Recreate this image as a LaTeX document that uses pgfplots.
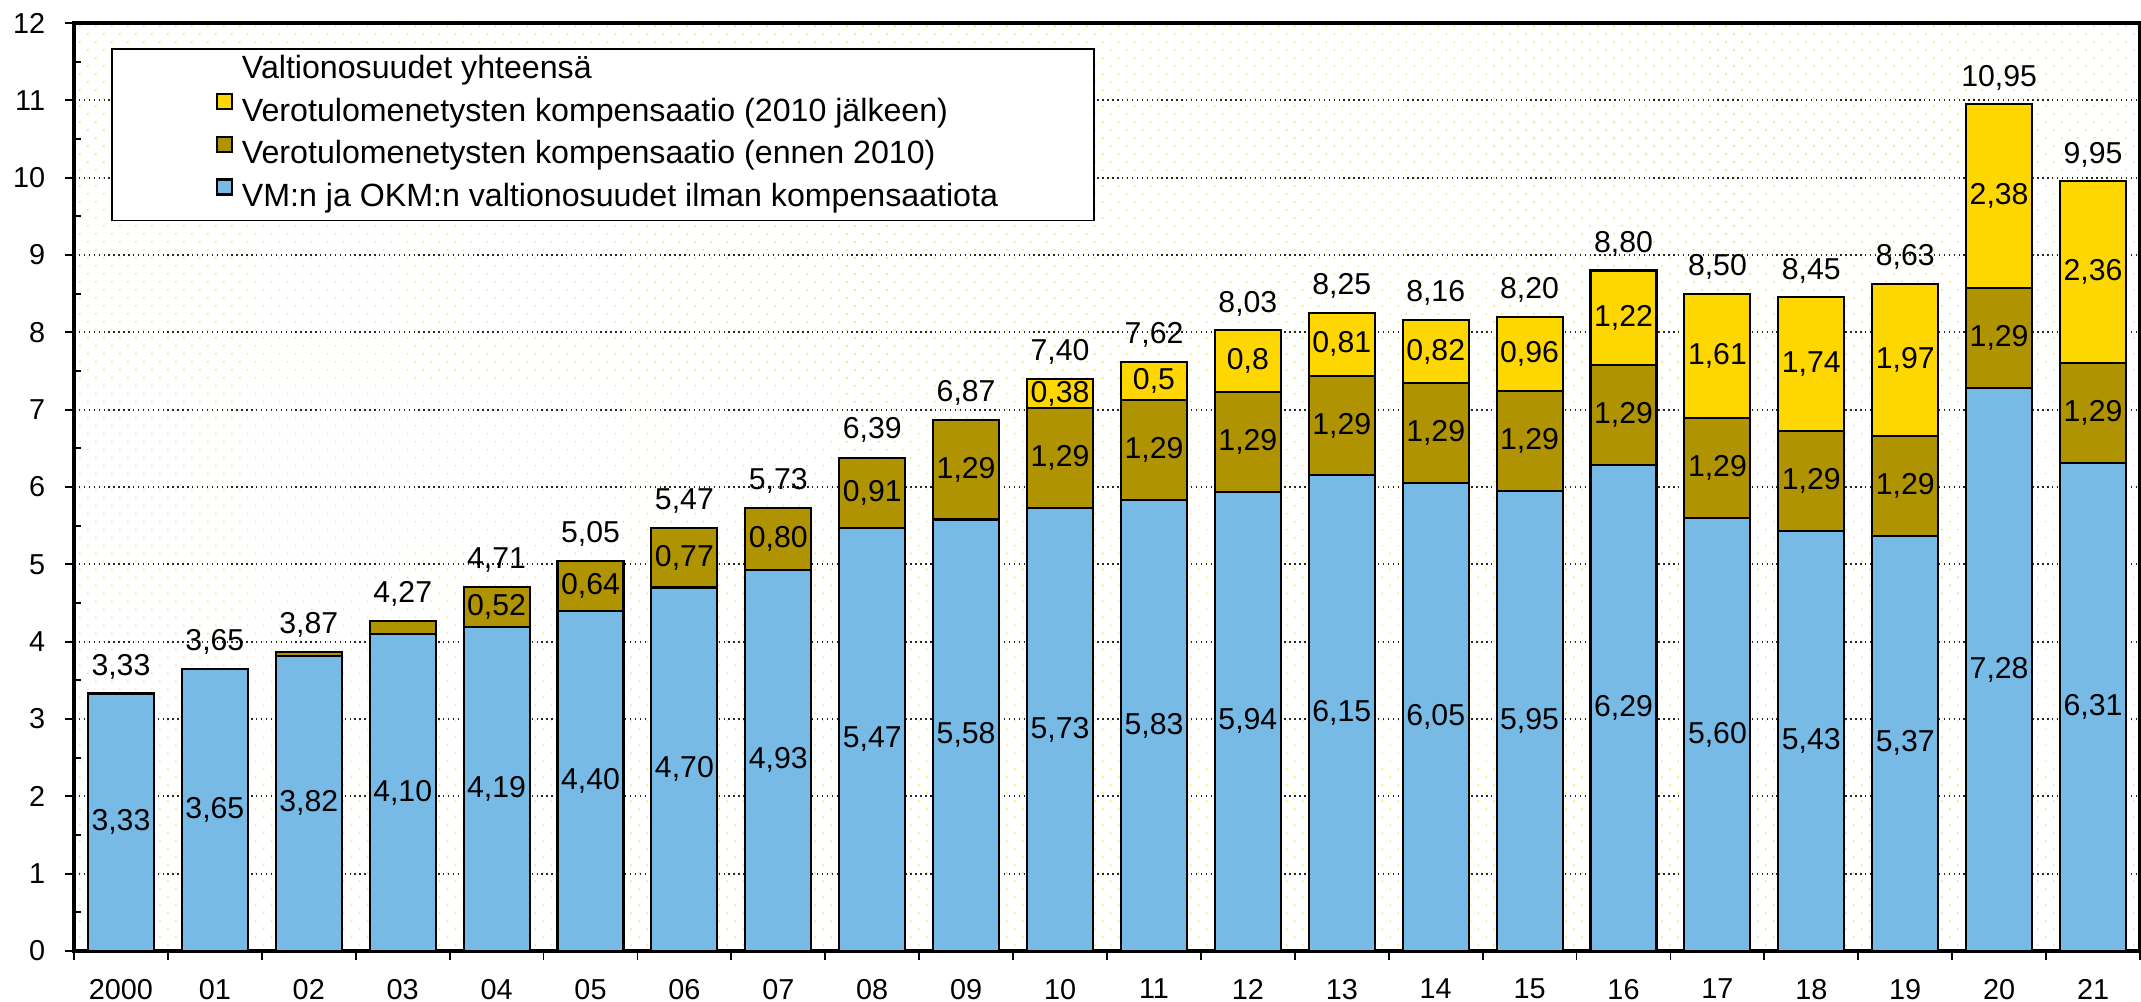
\documentclass[border=0pt]{standalone}
\usepackage{pgfplots}
\pgfplotsset{compat=1.18}
\usepackage{fontspec}
\setmainfont{Liberation Sans}
\usetikzlibrary{patterns.meta}

\definecolor{vmblue}{RGB}{119,186,230}
\definecolor{kompold}{RGB}{176,147,0}
\definecolor{kompnew}{RGB}{255,215,0}
\definecolor{dotyellow}{RGB}{245,232,90}

\pgfplotsset{
  base/.style={
    scale only axis, width=20.66cm, height=9.28cm,
    xmin=-0.5, xmax=21.5, ymin=0, ymax=12,
  },
}

\begin{document}
\begin{tikzpicture}
\useasboundingbox (-0.74cm,-0.50cm) rectangle (20.67cm,9.51cm);
% bars
\begin{axis}[base,
  ybar stacked, bar width=0.66cm,
  axis background/.style={pattern={Dots[angle=45, distance=0.113cm, radius=0.011cm]}, pattern color=dotyellow},
  axis line style={line width=1pt},
  font=\fontsize{8.2pt}{9.8pt}\selectfont,
  /pgf/number format/assume math mode=true,
  ytick={0,...,12}, minor y tick num=1,
  ymajorgrids, grid style={densely dotted, line width=0.5pt, black!85},
  tick align=outside, major tick length=0.09cm, minor tick length=0.05cm,
  tick style={black, line width=0.5pt},
  minor y tick style={xshift=0.07cm},
  xtick pos=bottom, ytick pos=left,
  xtick={-0.5,0.5,...,21.5}, xticklabels={},
  extra x ticks={0,...,21},
  extra x tick labels={2000,01,02,03,04,05,06,07,08,09,10,11,12,13,14,15,16,17,18,19,20,21},
  extra x tick style={major tick length=0pt, grid=none},
  xticklabel style={yshift=-0.155cm},
  yticklabel style={xshift=-0.075cm},
  every axis plot/.append style={draw=black, line width=0.6pt},
]
% VM:n ja OKM:n valtionosuudet
\addplot[fill=vmblue] coordinates {
  (0,3.33) (1,3.65) (2,3.82) (3,4.10) (4,4.19) (5,4.40) (6,4.70) (7,4.93)
  (8,5.47) (9,5.58) (10,5.73) (11,5.83) (12,5.94) (13,6.15) (14,6.05)
  (15,5.95) (16,6.29) (17,5.60) (18,5.43) (19,5.37) (20,7.28) (21,6.31)};
% kompensaatio ennen 2010
\addplot[fill=kompold] coordinates {
  (0,0) (1,0) (2,0.05) (3,0.17) (4,0.52) (5,0.64) (6,0.77) (7,0.80)
  (8,0.91) (9,1.29) (10,1.29) (11,1.29) (12,1.29) (13,1.29) (14,1.29)
  (15,1.29) (16,1.29) (17,1.29) (18,1.29) (19,1.29) (20,1.29) (21,1.29)};
% kompensaatio 2010 jalkeen
\addplot[fill=kompnew] coordinates {
  (0,0) (1,0) (2,0) (3,0) (4,0) (5,0) (6,0) (7,0) (8,0) (9,0)
  (10,0.38) (11,0.5) (12,0.8) (13,0.81) (14,0.82) (15,0.96) (16,1.22)
  (17,1.61) (18,1.74) (19,1.97) (20,2.38) (21,2.36)};
\end{axis}

% labels and legend
\begin{axis}[base, hide axis, clip=false,
  nodes near coords, point meta=explicit symbolic,
  every node near coord/.append style={font=\fontsize{8.6pt}{10pt}\selectfont, anchor=center, inner sep=0pt},
  legend style={at={(0,1)}, anchor=north west, xshift=0.37cm, yshift=-0.25cm,
    draw=black, line width=0.5pt, fill=white,
    inner xsep=0pt, inner ysep=0.05cm, row sep=0.055cm,
    cells={anchor=west},
    nodes={inner xsep=0.09cm, inner ysep=0.02cm, text height=0.23cm, text depth=0.07cm,
      font=\fontsize{9.15pt}{11pt}\selectfont}},
  legend image code/.code={
    \path[draw=none, fill=none] (0,0) -- (1.20cm,0);
    \draw[#1, line width=0.6pt] (1.05cm,0.04cm) rectangle (1.20cm,0.19cm);},
]
\addlegendimage{empty legend}
\addlegendentry{\makebox[8.43cm][l]{Valtionosuudet yhteensä}}
\addlegendimage{fill=kompnew, draw=black}
\addlegendentry{Verotulomenetysten kompensaatio (2010 jälkeen)}
\addlegendimage{fill=kompold, draw=black}
\addlegendentry{Verotulomenetysten kompensaatio (ennen 2010)}
\addlegendimage{fill=vmblue, draw=black}
\addlegendentry{VM:n ja OKM:n valtionosuudet ilman kompensaatiota}

\addplot[draw=none, forget plot] coordinates {
  (0,1.665)[3,33] (1,1.825)[3,65] (2,1.91)[3,82] (3,2.05)[4,10] (4,2.095)[4,19]
  (5,2.20)[4,40] (6,2.35)[4,70] (7,2.465)[4,93] (8,2.735)[5,47] (9,2.79)[5,58]
  (10,2.865)[5,73] (11,2.915)[5,83] (12,2.97)[5,94] (13,3.075)[6,15] (14,3.025)[6,05]
  (15,2.975)[5,95] (16,3.145)[6,29] (17,2.80)[5,60] (18,2.715)[5,43] (19,2.685)[5,37]
  (20,3.64)[7,28] (21,3.155)[6,31]};
\addplot[draw=none, forget plot] coordinates {
  (4,4.45)[0,52] (5,4.72)[0,64] (6,5.085)[0,77] (7,5.33)[0,80] (8,5.925)[0,91]
  (9,6.225)[1,29] (10,6.375)[1,29] (11,6.475)[1,29] (12,6.585)[1,29] (13,6.795)[1,29]
  (14,6.695)[1,29] (15,6.595)[1,29] (16,6.935)[1,29] (17,6.245)[1,29] (18,6.075)[1,29]
  (19,6.015)[1,29] (20,7.925)[1,29] (21,6.955)[1,29]};
\addplot[draw=none, forget plot] coordinates {
  (10,7.21)[0,38] (11,7.37)[0,5] (12,7.63)[0,8] (13,7.845)[0,81] (14,7.75)[0,82]
  (15,7.72)[0,96] (16,8.19)[1,22] (17,7.695)[1,61] (18,7.59)[1,74] (19,7.645)[1,97]
  (20,9.76)[2,38] (21,8.78)[2,36]};
% totals
\addplot[draw=none, forget plot, nodes near coords style={anchor=base, yshift=0.18cm}] coordinates {
  (0,3.33)[3,33] (1,3.65)[3,65] (2,3.87)[3,87] (3,4.27)[4,27] (4,4.71)[4,71]
  (5,5.05)[5,05] (6,5.47)[5,47] (7,5.73)[5,73] (8,6.39)[6,39] (9,6.87)[6,87]
  (10,7.40)[7,40] (11,7.62)[7,62] (12,8.03)[8,03] (13,8.25)[8,25] (14,8.16)[8,16]
  (15,8.20)[8,20] (16,8.80)[8,80] (17,8.50)[8,50] (18,8.45)[8,45] (19,8.63)[8,63]
  (20,10.95)[10,95] (21,9.95)[9,95]};
\end{axis}
\end{tikzpicture}
\end{document}
